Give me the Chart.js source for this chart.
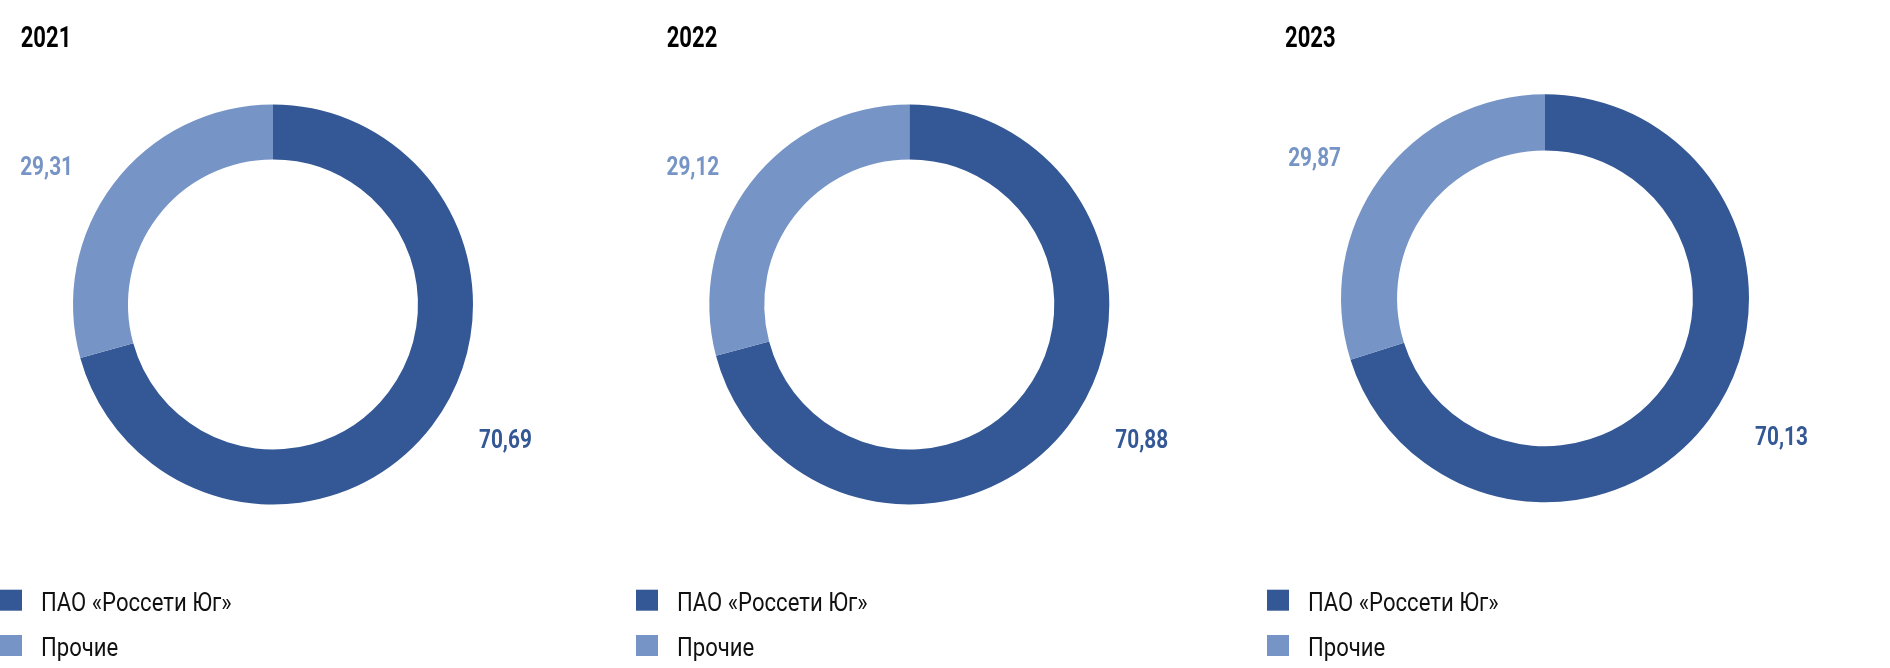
<!DOCTYPE html>
<html>
<head>
<meta charset="utf-8">
<script src="https://cdn.jsdelivr.net/npm/chart.js@4.4.1/dist/chart.umd.min.js"></script>
<style>
  html, body { margin: 0; padding: 0; background: #ffffff; }
  body { width: 1890px; height: 668px; position: relative; overflow: hidden; }
  canvas { position: absolute; top: 0; }
</style>
</head>
<body>
<canvas id="c0" width="623" height="668" style="left:0px"></canvas>
<canvas id="c1" width="623" height="668" style="left:636px"></canvas>
<canvas id="c2" width="623" height="668" style="left:1267px"></canvas>
<script>
// ---- data ----
const years = ['2021', '2022', '2023'];
const categories = ['ПАО «Россети Юг»', 'Прочие'];
const rossetiYug = [70.69, 70.88, 70.13];
const prochie = [29.31, 29.12, 29.87];

// ---- styles / layout ----
const colors = ['#345895', '#7694C5'];
const FONT = 'Roboto, "Noto Sans", sans-serif';
const panelPadding = [
  { left: 73, right: 150, top: 104.5, bottom: 163.5 },
  { left: 73.3, right: 149.7, top: 104.5, bottom: 163.5 },
  { left: 74, right: 141, top: 94.3, bottom: 165.7 }
];
const titleX = [20.7, 30.7, 18];
const lightLabelShift = [0, 10, 0];
const SQ_TITLE = 0.76, SQ_VALUE = 0.80, SQ_LEGEND = 0.85;

function fmt(v) { return v.toFixed(2).replace('.', ','); }

function narrowText(ctx, text, x, y, align, sx) {
  ctx.save();
  ctx.translate(x, y);
  ctx.scale(sx, 1);
  ctx.textAlign = align;
  ctx.fillText(text, 0, 0);
  ctx.restore();
}

const decorPlugin = {
  id: 'decor',
  afterDraw(chart, args, opts) {
    const ctx = chart.ctx;
    const meta = chart.getDatasetMeta(0);
    const arc = meta.data[0];
    const cx = arc.x, cy = arc.y, r = arc.outerRadius;
    const ds = chart.data.datasets[0];
    ctx.save();
    // title
    ctx.font = 'bold 29px ' + FONT;
    ctx.fillStyle = '#000000';
    ctx.textBaseline = 'alphabetic';
    narrowText(ctx, opts.title, opts.titleX, 47, 'left', SQ_TITLE);

    // value labels
    ctx.font = 'bold 26px ' + FONT;
    ctx.textBaseline = 'middle';
    ctx.fillStyle = ds.backgroundColor[0];
    narrowText(ctx, fmt(ds.data[0]), cx + r * 1.03, cy + r * 0.685, 'left', SQ_VALUE);
    ctx.fillStyle = ds.backgroundColor[1];
    narrowText(ctx, fmt(ds.data[1]), cx - r * 1.0 + opts.lightShift, cy - r * 0.68, 'right', SQ_VALUE);

    // legend
    ctx.font = '26px ' + FONT;
    ctx.textBaseline = 'alphabetic';
    const baselines = [610.7, 656];
    chart.data.labels.forEach((lab, i) => {
      ctx.fillStyle = ds.backgroundColor[i];
      ctx.fillRect(0, baselines[i] - 21, 22, 21);
      ctx.fillStyle = '#111111';
      narrowText(ctx, lab, 41, baselines[i], 'left', SQ_LEGEND);
    });
    ctx.restore();
  }
};

function build() {
  years.forEach((y, i) => {
    new Chart(document.getElementById('c' + i), {
      type: 'doughnut',
      data: {
        labels: categories,
        datasets: [{
          data: [rossetiYug[i], prochie[i]],
          backgroundColor: colors,
          borderWidth: 0,
          hoverBorderWidth: 0,
          offset: 0,
          hoverOffset: 0
        }]
      },
      options: {
        responsive: false,
        maintainAspectRatio: false,
        animation: false,
        events: [],
        cutout: '72.5%',
        layout: { padding: panelPadding[i] },
        plugins: {
          legend: { display: false },
          tooltip: { enabled: false },
          title: { display: false },
          decor: { title: y, titleX: titleX[i], lightShift: lightLabelShift[i] }
        }
      },
      plugins: [decorPlugin]
    });
  });
}

Promise.all([
  document.fonts.load('bold 29px Roboto'),
  document.fonts.load('26px Roboto')
]).then(build, build);
</script>
</body>
</html>
